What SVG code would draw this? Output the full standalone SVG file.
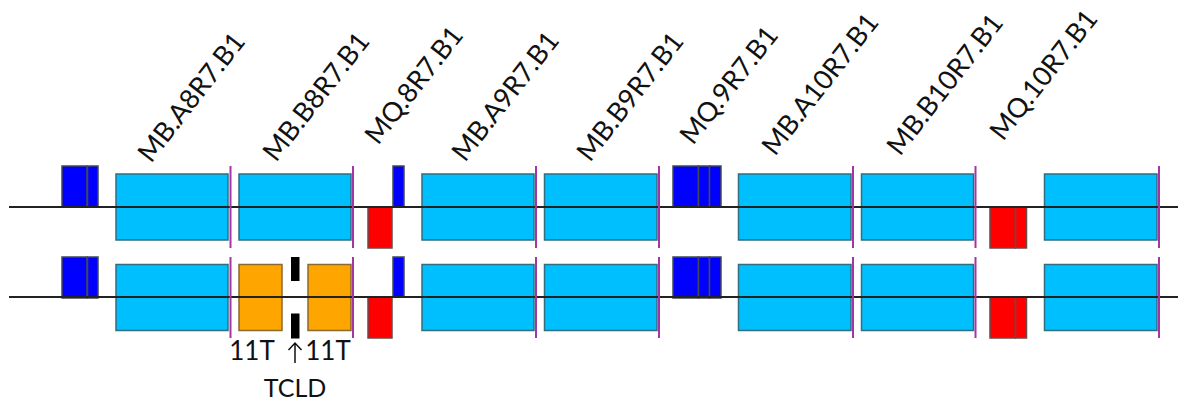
<svg xmlns="http://www.w3.org/2000/svg" width="1178" height="400" viewBox="0 0 1178 400">
<style>
.bl{fill:#0000ff;stroke:#44475a;stroke-width:1.500}
.rd{fill:#ff0000;stroke:#6a4a4a;stroke-width:1.500}
.cy{fill:#00bfff;stroke:#2f6f80;stroke-width:1.500}
.or{fill:#ffa500;stroke:#8a6a30;stroke-width:1.500}
.bk{fill:#000}
.mg{stroke:#a535a5;stroke-width:2;fill:none}
.ln{stroke:#222;stroke-width:2;fill:none}
text{font-family:"Lato","Open Sans",sans-serif;fill:#111}
.lb{font-size:27px}
.t{font-size:26px;text-anchor:middle}
</style>
<defs>
<g id="bb"><rect class="bl" x="62" y="0" width="25" height="41"/><rect class="bl" x="87.500" y="0" width="10.500" height="41"/></g>
<g id="bq"><rect class="bl" x="673" y="0" width="25.500" height="41"/><rect class="bl" x="698.500" y="0" width="11" height="41"/><rect class="bl" x="709.500" y="0" width="11.500" height="41"/></g>
<g id="rq"><rect class="rd" x="990" y="0" width="25.500" height="41"/><rect class="rd" x="1015.500" y="0" width="11" height="41"/></g>
<g id="cyans">
<rect class="cy" x="422" y="0" width="112" height="66"/><rect class="cy" x="544.500" y="0" width="112.500" height="66"/>
<rect class="cy" x="738.500" y="0" width="112.500" height="66"/><rect class="cy" x="861.500" y="0" width="112" height="66"/>
<rect class="cy" x="1044.500" y="0" width="112.500" height="66"/>
</g>
</defs>
<g id="row1">
<g id="r1-blue"><use href="#bb" y="166"/><rect class="bl" x="393" y="166" width="11" height="41"/><use href="#bq" y="166"/></g>
<g id="r1-red"><rect class="rd" x="368" y="207" width="24" height="41"/><use href="#rq" y="207"/></g>
<g id="r1-dipoles"><rect class="cy" x="116" y="174" width="112" height="66"/><rect class="cy" x="239" y="174" width="112" height="66"/><use href="#cyans" y="174"/></g>
</g>
<g id="row2">
<g id="r2-blue"><use href="#bb" y="257"/><rect class="bl" x="393" y="257" width="11" height="40"/><use href="#bq" y="257"/></g>
<g id="r2-red"><rect class="rd" x="368" y="297" width="24" height="41"/><use href="#rq" y="297"/></g>
<g id="r2-dipoles"><rect class="cy" x="116" y="264.500" width="112" height="66"/><rect class="or" x="239" y="264.500" width="43" height="66"/><rect class="or" x="308" y="264.500" width="43" height="66"/><use href="#cyans" y="264.500"/></g>
<g id="tcld"><rect class="bk" x="291" y="257" width="8.500" height="24"/><rect class="bk" x="291" y="313.500" width="8.500" height="25"/></g>
</g>
<g id="connectors">
<path class="ln" d="M9 207H1178M9 297H1178"/>
<path class="mg" d="M230.500 166V248M353 166V248M536 166V248M659 166V248M853 166V248M975.500 166V248M1159 166V248M230.500 257V338M353 257V338M536 257V338M659 257V338M853 257V338M975.500 257V338M1159 257V338"/>
<path d="M295 363V343M288.500 350L295 343L301.500 350" fill="none" stroke="#111" stroke-width="1.500"/>
</g>
<g id="labels">
<text class="lb" transform="translate(151 164) rotate(-52)">MB.A8R7.B1</text>
<text class="lb" transform="translate(276 163) rotate(-52)">MB.B8R7.B1</text>
<text class="lb" transform="translate(378 146) rotate(-52)">MQ.8R7.B1</text>
<text class="lb" transform="translate(465 163) rotate(-52)">MB.A9R7.B1</text>
<text class="lb" transform="translate(590 163) rotate(-52)">MB.B9R7.B1</text>
<text class="lb" transform="translate(693 146) rotate(-52)">MQ.9R7.B1</text>
<text class="lb" transform="translate(775 157) rotate(-52)">MB.A10R7.B1</text>
<text class="lb" transform="translate(900 157) rotate(-52)">MB.B10R7.B1</text>
<text class="lb" transform="translate(1003 142) rotate(-52)">MQ.10R7.B1</text>
<text class="t" x="252" y="360">11T</text>
<text class="t" x="328" y="360">11T</text>
<text class="t" x="295" y="397" style="font-size:25px">TCLD</text>
</g>
</svg>
